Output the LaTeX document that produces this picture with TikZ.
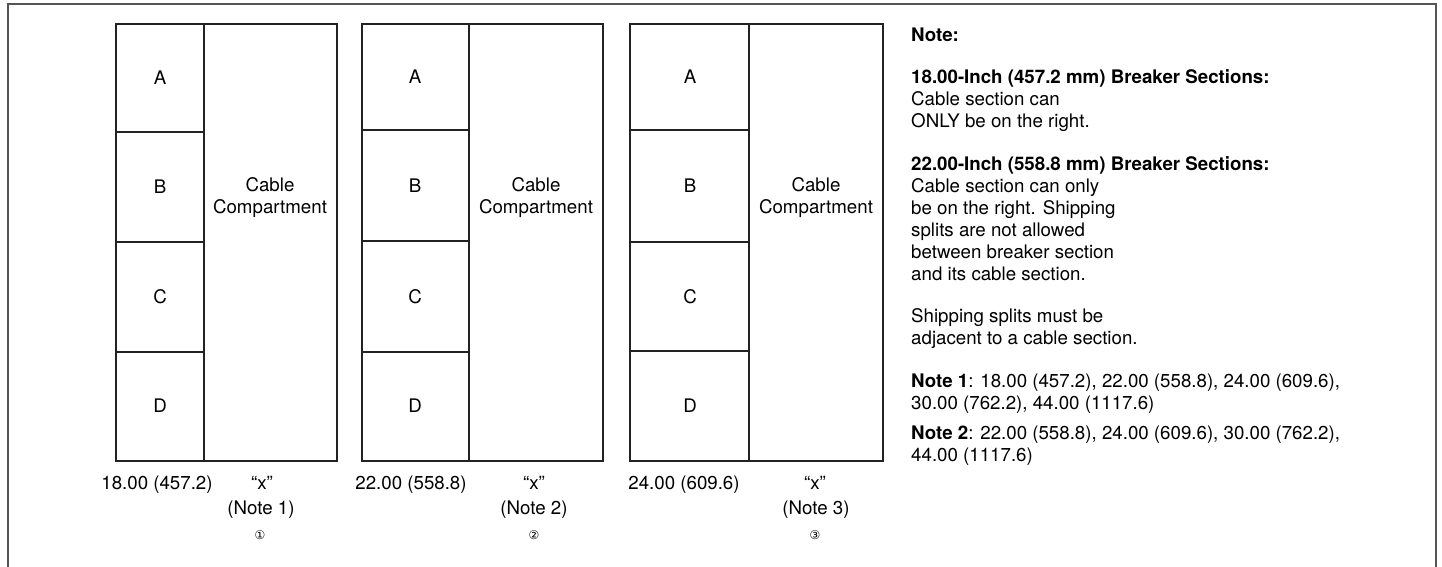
\documentclass[tikz,border=0pt]{standalone}
\usepackage{fontspec}
\setmainfont{TeX Gyre Heros}
\newfontfamily\circfont{DejaVu Sans}
\usepackage{tikz}
\definecolor{framegray}{HTML}{555555}
\definecolor{linedark}{HTML}{222222}

\begin{document}
\begin{tikzpicture}[x=1pt,y=1pt]
\tikzstyle{every node}+=[inner sep=0pt,font=\fontsize{18.7}{22}\selectfont]
\tikzstyle{box}=[draw=linedark,line width=1.3pt]
\tikzstyle{circnum}=[font=\circfont\fontsize{12}{14}\selectfont]
\useasboundingbox (0,0) rectangle (1442,-567);
\draw [framegray,line width=2.2pt] (8,-567) -- (8,-4) -- (1436,-4) -- (1436,-567);
% panel 1
\draw [box] (116,-24) rectangle (337,-461);
\draw [box] (204,-24) -- (204,-461);
\draw [box] (116,-132) -- (204,-132);
\draw [box] (116,-242) -- (204,-242);
\draw [box] (116,-352) -- (204,-352);
\draw (160,-78) node (oneA) {A};
\draw (160,-187) node (oneB) {B};
\draw (160,-297) node (oneC) {C};
\draw (160,-406) node (oneD) {D};
\draw (270,-198) node [align=center] (oneCab) {Cable\\Compartment};
\draw (157,-489) node [anchor=base] (oneWidth) {18.00 (457.2)};
\draw (262,-489) node [anchor=base] (oneX) {``x''};
\draw (261,-514) node [anchor=base] (oneNote) {(Note 1)};
\draw (260,-535) node [circnum] (oneNum) {①};
% panel 2
\draw [box] (362,-24) rectangle (603,-461);
\draw [box] (469,-24) -- (469,-461);
\draw [box] (362,-130) -- (469,-130);
\draw [box] (362,-241) -- (469,-241);
\draw [box] (362,-352) -- (469,-352);
\draw (415,-77) node (twoA) {A};
\draw (415,-186) node (twoB) {B};
\draw (415,-297) node (twoC) {C};
\draw (415,-406) node (twoD) {D};
\draw (536,-198) node [align=center] (twoCab) {Cable\\Compartment};
\draw (411,-489) node [anchor=base] (twoWidth) {22.00 (558.8)};
\draw (534,-489) node [anchor=base] (twoX) {``x''};
\draw (534,-514) node [anchor=base] (twoNote) {(Note 2)};
\draw (534,-535) node [circnum] (twoNum) {②};
% panel 3
\draw [box] (630,-24) rectangle (883,-461);
\draw [box] (749,-24) -- (749,-461);
\draw [box] (630,-130) -- (749,-130);
\draw [box] (630,-242) -- (749,-242);
\draw [box] (630,-351) -- (749,-351);
\draw (690,-77) node (threeA) {A};
\draw (690,-186) node (threeB) {B};
\draw (690,-297) node (threeC) {C};
\draw (690,-406) node (threeD) {D};
\draw (816,-198) node [align=center] (threeCab) {Cable\\Compartment};
\draw (684,-489) node [anchor=base] (threeWidth) {24.00 (609.6)};
\draw (815,-489) node [anchor=base] (threeX) {``x''};
\draw (816,-514) node [anchor=base] (threeNote) {(Note 3)};
\draw (815,-535) node [circnum] (threeNum) {③};
% notes
\draw (911,-42) node [anchor=base west] (noteHead) {\textbf{Note:}};
\draw (911,-84) node [anchor=base west] (noteOneHead) {\textbf{18.00-Inch (457.2 mm) Breaker Sections:}};
\draw (911,-106) node [anchor=base west] (noteOneA) {Cable section can};
\draw (911,-128) node [anchor=base west] (noteOneB) {ONLY be on the right.};
\draw (911,-170) node [anchor=base west] (noteTwoHead) {\textbf{22.00-Inch (558.8 mm) Breaker Sections:}};
\draw (911,-192) node [anchor=base west] (noteTwoA) {Cable section can only};
\draw (911,-214) node [anchor=base west] (noteTwoB) {be on the right. Shipping};
\draw (911,-236) node [anchor=base west] (noteTwoC) {splits are not allowed};
\draw (911,-258) node [anchor=base west] (noteTwoD) {between breaker section};
\draw (911,-280) node [anchor=base west] (noteTwoE) {and its cable section.};
\draw (911,-322) node [anchor=base west] (noteSplitA) {Shipping splits must be};
\draw (911,-344) node [anchor=base west] (noteSplitB) {adjacent to a cable section.};
\draw (911,-387) node [anchor=base west] (noteNumOneA) {\textbf{Note 1}: 18.00 (457.2), 22.00 (558.8), 24.00 (609.6),};
\draw (911,-409) node [anchor=base west] (noteNumOneB) {30.00 (762.2), 44.00 (1117.6)};
\draw (911,-439) node [anchor=base west] (noteNumTwoA) {\textbf{Note 2}: 22.00 (558.8), 24.00 (609.6), 30.00 (762.2),};
\draw (911,-461) node [anchor=base west] (noteNumTwoB) {44.00 (1117.6)};
\end{tikzpicture}
\end{document}
